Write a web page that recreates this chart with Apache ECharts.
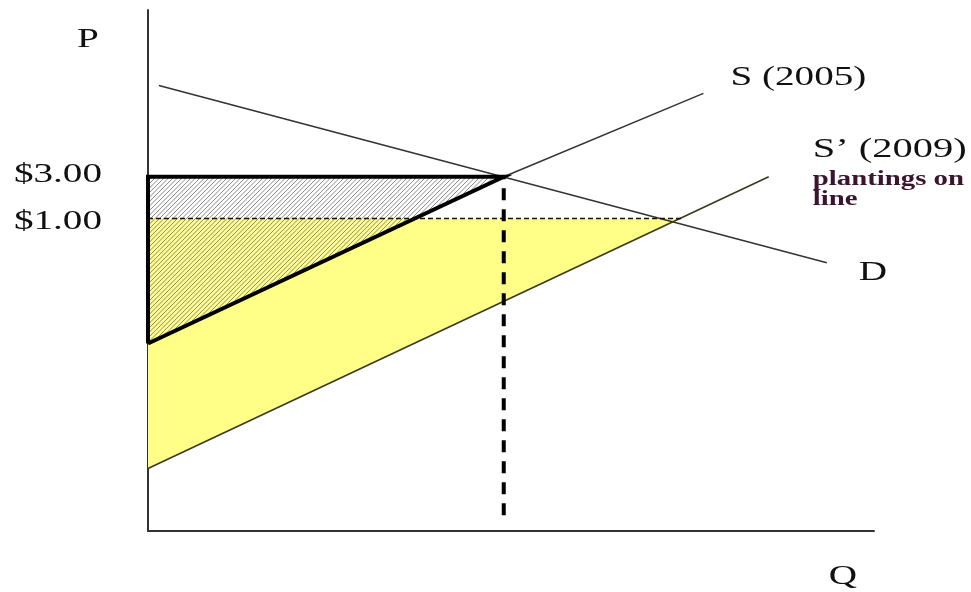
<!DOCTYPE html>
<html><head><meta charset="utf-8">
<script src="https://cdn.jsdelivr.net/npm/echarts@6/dist/echarts.min.js"></script>
<style>html,body{margin:0;padding:0;background:#fff}#c{width:971px;height:592px}</style>
</head><body><div id="c"></div>
<script>
// ---- data (abstract diagram units, 0..100 on both axes) ----
const demandD = [[1.5, 85.5], [93.5, 51.5]];
const supply2005 = [[49, 68], [76.5, 84]];
const supply2005Lower = [[0, 36], [49, 68]];
const supply2009 = [[0, 12], [85.5, 68]];
const priceLevels = [68, 60];
const priceLabels = ['$3.00', '$1.00'];
const quantityEq = 49;
const quantityAt1 = 73.5;
const dashedBottom = 3;
const curveNames = ['S (2005)', 'S\u2019 (2009)', 'D'];
const noteLines = ['plantings on', 'line'];
const axisNames = ['P', 'Q'];
const axisMax = [100, 100];

// ---- derived shapes ----
const yellowArea = [[0, priceLevels[1]], [quantityAt1, priceLevels[1]], supply2009[0]];
const hatchArea = [[0, priceLevels[0]], [quantityEq, priceLevels[0]], supply2005Lower[0]];
const boldOutline = [supply2005Lower[0], [0, priceLevels[0]], [quantityEq, priceLevels[0]], supply2005Lower[0]];

const SERIF = '"Liberation Serif", "DejaVu Serif", serif';
const SX = 1.45;
const labelSpecs = [
  { anchor: [0, axisMax[1]], text: axisNames[0], dx: -60, dy: 30, size: 27, align: 'center' },
  { anchor: [axisMax[0], 0], text: axisNames[1], dx: -31, dy: 46, size: 27, align: 'center' },
  { anchor: [0, priceLevels[0]], text: priceLabels[0], dx: -46, dy: -2, size: 27, align: 'right' },
  { anchor: [0, priceLevels[1]], text: priceLabels[1], dx: -46, dy: 4, size: 27, align: 'right' },
  { anchor: supply2005[1], text: curveNames[0], dx: 27, dy: -15, size: 27, align: 'left' },
  { anchor: supply2009[1], text: curveNames[1], dx: 44, dy: -27, size: 27, align: 'left', sx: 1.5 },
  { anchor: demandD[1], text: curveNames[2], dx: 32, dy: 10, size: 27, align: 'left' },
  { anchor: supply2009[1], text: noteLines[0], dx: 44, dy: 3, size: 20, bold: true, align: 'left', sx: 1.44 },
  { anchor: supply2009[1], text: noteLines[1], dx: 44, dy: 23, size: 20, bold: true, align: 'left', sx: 1.44 }
];

function polySeries(pts, style, z) {
  return {
    type: 'custom', coordinateSystem: 'cartesian2d', z: z, silent: true,
    data: [pts[0]],
    renderItem: function (params, api) {
      return { type: 'polygon', shape: { points: pts.map(p => api.coord(p)) }, style: style };
    }
  };
}
function hatchSeries(pts, step, z) {
  return {
    type: 'custom', coordinateSystem: 'cartesian2d', z: z, silent: true,
    data: [pts[0]],
    renderItem: function (params, api) {
      const P = pts.map(p => api.coord(p));
      const sums = P.map(p => p[0] + p[1]);
      const cmin = Math.min.apply(null, sums), cmax = Math.max.apply(null, sums);
      const children = [];
      for (let c = Math.ceil(cmin / step) * step; c <= cmax; c += step) {
        const hits = [];
        for (let i = 0; i < P.length; i++) {
          const a = P[i], b = P[(i + 1) % P.length];
          const fa = a[0] + a[1] - c, fb = b[0] + b[1] - c;
          if ((fa <= 0 && fb > 0) || (fa > 0 && fb <= 0)) {
            const t = fa / (fa - fb);
            hits.push([a[0] + t * (b[0] - a[0]), a[1] + t * (b[1] - a[1])]);
          }
        }
        if (hits.length >= 2) {
          children.push({ type: 'line', shape: { x1: hits[0][0], y1: hits[0][1], x2: hits[1][0], y2: hits[1][1] },
            style: { stroke: '#8a8a8a', lineWidth: 1 } });
        }
      }
      return { type: 'group', children: children };
    }
  };
}
function lineSeries(pts, color, width, type, z) {
  return {
    type: 'line', data: pts, symbol: 'none', silent: true, z: z,
    lineStyle: { color: color, width: width, type: type || 'solid', cap: 'butt' }
  };
}

const chart = echarts.init(document.getElementById('c'));
chart.setOption({
  animation: false,
  backgroundColor: '#fff',
  grid: { left: 148, top: 10, width: 726, height: 521, containLabel: false },
  xAxis: {
    type: 'value', min: 0, max: axisMax[0],
    axisLine: { show: true, onZero: false, lineStyle: { color: '#333', width: 2 } },
    axisTick: { show: false }, axisLabel: { show: false }, splitLine: { show: false }
  },
  yAxis: {
    type: 'value', min: 0, max: axisMax[1],
    axisLine: { show: true, onZero: false, lineStyle: { color: '#333', width: 2 } },
    axisTick: { show: false }, axisLabel: { show: false }, splitLine: { show: false }
  },
  series: [
    polySeries(yellowArea, { fill: '#ffff88' }, 1),
    hatchSeries(hatchArea, 4.5, 2),
    lineSeries(demandD, '#333', 1.5, 'solid', 3),
    lineSeries(supply2005, '#333', 1.5, 'solid', 3),
    lineSeries(supply2009, '#3a3a20', 1.6, 'solid', 3),
    lineSeries([[0, priceLevels[1]], [quantityAt1, priceLevels[1]]], '#111', 1.5, [5, 3], 4),
    lineSeries([[quantityEq, dashedBottom], [quantityEq, priceLevels[0]]], '#000', 4, [12, 9], 4),
    {
      type: 'line', data: boldOutline, symbol: 'none', silent: true, z: 5,
      lineStyle: { color: '#000', width: 4, join: 'miter' }
    },
    {
      type: 'custom', coordinateSystem: 'cartesian2d', z: 6, silent: true, clip: false,
      data: labelSpecs.map(s => s.anchor),
      renderItem: function (params, api) {
        const s = labelSpecs[params.dataIndex];
        const p = api.coord(s.anchor);
        return {
          type: 'text', x: p[0] + s.dx, y: p[1] + s.dy, scaleX: s.sx || SX,
          style: {
            text: s.text, fill: s.bold ? '#3b1530' : '#111',
            font: (s.bold ? 'bold ' : '') + s.size + 'px ' + SERIF,
            align: s.align, verticalAlign: 'middle'
          }
        };
      }
    }
  ]
});
</script></body></html>
